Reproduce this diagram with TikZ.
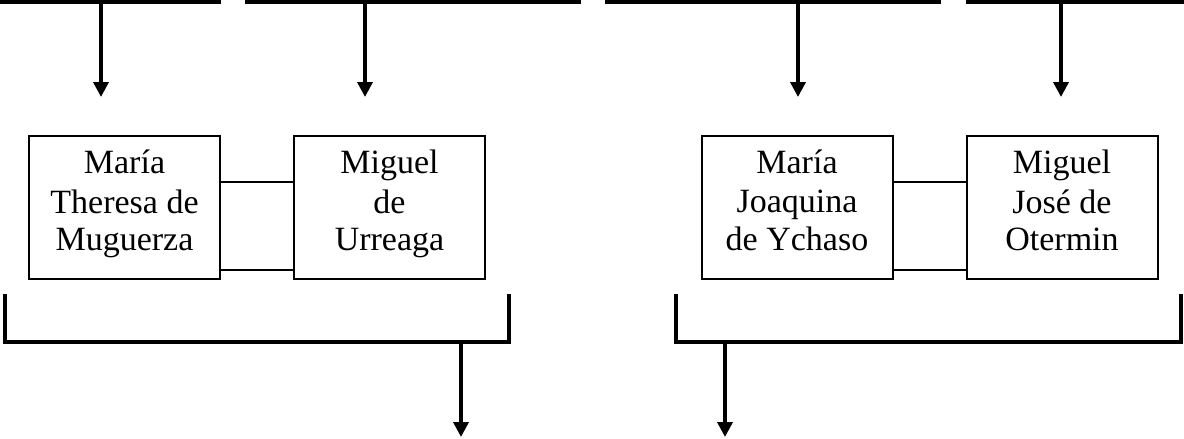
\documentclass[tikz,border=0pt]{standalone}
\usepackage{fontspec}
\setmainfont{Liberation Serif}
\usetikzlibrary{arrows.meta}
\newcommand{\pstrut}{\rule[-15pt]{0pt}{39pt}}
\begin{document}
\begin{tikzpicture}[x=1pt,y=-1pt,
  heavy/.style={line width=3.5pt},
  downarrow/.style={heavy,-{Triangle[length=15pt,width=15pt]}},
  person/.style={draw,line width=2pt,minimum width=191pt,minimum height=143pt,
    inner sep=0pt,align=center,font=\fontsize{34}{37.5}\selectfont},
  tie/.style={line width=1.4pt},
  bracketline/.style={heavy,line join=miter}]
\useasboundingbox (0,0) rectangle (1184,439);
% top lines
\coordinate (l1a) at (0,1.75);   \coordinate (l1b) at (221,1.75);
\coordinate (l2a) at (245,1.75); \coordinate (l2b) at (581,1.75);
\coordinate (l3a) at (605,1.75); \coordinate (l3b) at (941,1.75);
\coordinate (l4a) at (966,1.75); \coordinate (l4b) at (1184,1.75);
\draw[heavy] (l1a) -- (l1b);
\draw[heavy] (l2a) -- (l2b);
\draw[heavy] (l3a) -- (l3b);
\draw[heavy] (l4a) -- (l4b);
\coordinate (a1s) at (101,1.75);  \coordinate (a1e) at (101,97);
\coordinate (a2s) at (365,1.75);  \coordinate (a2e) at (365,97);
\coordinate (a3s) at (798,1.75);  \coordinate (a3e) at (798,97);
\coordinate (a4s) at (1061,1.75); \coordinate (a4e) at (1061,97);
\draw[downarrow] (a1s) -- (a1e);
\draw[downarrow] (a2s) -- (a2e);
\draw[downarrow] (a3s) -- (a3e);
\draw[downarrow] (a4s) -- (a4e);
% boxes
\node[person] (b1) at (124.5,207.5) {\pstrut María\\Theresa de\\Muguerza\pstrut};
\node[person] (b2) at (389.5,207.5) {\pstrut Miguel\\de\\Urreaga\pstrut};
\node[person] (b3) at (797,207.5) {\pstrut María\\Joaquina\\de Ychaso\pstrut};
\node[person] (b4) at (1062,207.5) {\pstrut Miguel\\José de\\Otermin\pstrut};
% marriage ties
\draw[tie] ([yshift=-47pt]b1.north east) -- ([yshift=-47pt]b2.north west);
\draw[tie] ([yshift=10pt]b1.south east) -- ([yshift=10pt]b2.south west);
\draw[tie] ([yshift=-47pt]b3.north east) -- ([yshift=-47pt]b4.north west);
\draw[tie] ([yshift=10pt]b3.south east) -- ([yshift=10pt]b4.south west);
% brackets
\coordinate (k1a) at (5,294);   \coordinate (k1b) at (5,342);
\coordinate (k1c) at (509,342); \coordinate (k1d) at (509,294);
\coordinate (k2a) at (676,294);  \coordinate (k2b) at (676,342);
\coordinate (k2c) at (1181,342); \coordinate (k2d) at (1181,294);
\draw[bracketline] (k1a) -- (k1b) -- (k1c) -- (k1d);
\draw[bracketline] (k2a) -- (k2b) -- (k2c) -- (k2d);
\coordinate (d1s) at (461,342); \coordinate (d1e) at (461,437);
\coordinate (d2s) at (725,342); \coordinate (d2e) at (725,437);
\draw[downarrow] (d1s) -- (d1e);
\draw[downarrow] (d2s) -- (d2e);
\end{tikzpicture}
\end{document}
